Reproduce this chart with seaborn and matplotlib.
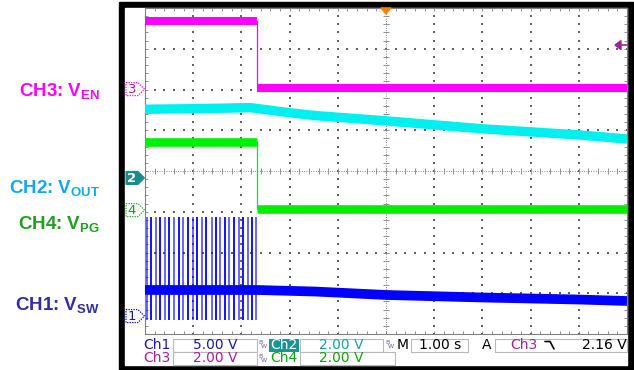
import numpy as np
import pandas as pd
import matplotlib
matplotlib.use("Agg")
import matplotlib.pyplot as plt
import seaborn as sns
from matplotlib.patches import Rectangle, Polygon

# ---------------- data ----------------
# time in seconds (1.00 s/div, trigger at t = 0), voltages in volts
ch3_time = [-5.0, -2.68, 5.0]          # CH3: V_EN (step)
ch3_volt = [3.34, 0.05, 0.05]
ch4_time = [-5.0, -2.68, 5.0]          # CH4: V_PG (step)
ch4_volt = [3.34, 0.05, 0.05]
ch2_time = [-5.0, -3.86, -2.82, -2.0, -1.47, 0.0, 2.0, 4.0, 5.0]   # CH2: V_OUT
ch2_volt = [3.37, 3.40, 3.45, 3.20, 3.06, 2.80, 2.41, 2.11, 1.91]
ch1_time = [-5.0, -2.68, -1.47, 0.0, 2.0, 4.0, 5.0]                # CH1: V_SW baseline
ch1_volt = [3.20, 3.20, 3.01, 2.59, 2.28, 2.03, 1.85]
sw_pulse_time = [-4.96, -4.87, -4.77, -4.68, -4.59, -4.50, -4.40, -4.30, -4.21,
                 -4.11, -4.01, -3.93, -3.82, -3.73, -3.62, -3.53, -3.44, -3.34,
                 -3.25, -3.15, -3.05, -2.96, -2.86, -2.77, -2.69]
sw_pulse_high = 12.2
sw_pulse_low = -0.5

channel_names = ["Ch1", "Ch2", "Ch3", "Ch4"]
volts_per_div = [5.0, 2.0, 2.0, 2.0]
offset_div = [-3.56, -0.17, 2.01, -0.96]
scale_labels = ["5.00 V", "2.00 V", "2.00 V", "2.00 V"]
time_label = "1.00 s"
trigger_source = "Ch3"
trigger_level = 2.16
trigger_label = "2.16 V"
trace_labels = [("CH1: V", "SW"), ("CH2: V", "OUT"), ("CH3: V", "EN"), ("CH4: V", "PG")]

# ---------------- style ----------------
sns.set_style("white")
plt.rcParams["font.family"] = ["DejaVu Sans"]
plt.rcParams["mathtext.fontset"] = "custom"
plt.rcParams["mathtext.bf"] = "Liberation Sans:bold"
plt.rcParams["mathtext.rm"] = "Liberation Sans"

trace_col = ["#0000FF", "#00F0F0", "#FF00FF", "#00F000"]
label_col = ["#2E2EA8", "#10A8EC", "#FF00FF", "#1FA01F"]
panel_col = ["#1A1AA0", "#1AA0A0", "#A020A0", "#10A010"]

W, H = 634, 370
GX0, GX1, GY0, GY1 = 145, 627, 8, 334
fig = plt.figure(figsize=(W / 100, H / 100), dpi=100)

ax_bg = fig.add_axes([0, 0, 1, 1], zorder=0)
ax_bg.set_xlim(0, W); ax_bg.set_ylim(H, 0); ax_bg.axis("off")
ax_bg.add_patch(Rectangle((119, 2), W - 119, H - 2, color="black"))
ax_bg.add_patch(Rectangle((125, 8), GX1 - 125, 365 - 8, color="white"))

ax = fig.add_axes([GX0 / W, (H - GY1) / H, (GX1 - GX0) / W, (GY1 - GY0) / H], zorder=1)
ax.set_facecolor("none")
ax.set_xlim(-5, 5); ax.set_ylim(-4, 4)

def to_div(v, ch):
    return np.asarray(v, dtype=float) / volts_per_div[ch] + offset_div[ch]

# grid
minor_x = np.arange(-5, 5.001, 0.2)
minor_y = np.arange(-4, 4.001, 0.2)
gx, gy = [], []
for xv in range(-4, 5):
    if xv == 0:
        continue
    gx += [xv] * len(minor_y); gy += list(minor_y)
for yv in range(-3, 4):
    if yv == 0:
        continue
    gx += list(minor_x); gy += [yv] * len(minor_x)
ax.scatter(gx, gy, s=1.0, marker="s", color="#606060", linewidths=0, zorder=1)
ax.axhline(0, color="#606060", lw=0.6, ls=(0, (1, 1.8)), zorder=1)
ax.axvline(0, color="#606060", lw=0.6, ls=(0, (1, 1.8)), zorder=1)
ax.scatter(minor_x, np.zeros_like(minor_x), marker="|", s=14, color="#909090", linewidths=0.7, zorder=1)
ax.scatter(np.zeros_like(minor_y), minor_y, marker="_", s=14, color="#909090", linewidths=0.7, zorder=1)
ax.set_xticks(minor_x); ax.set_yticks(minor_y)
ax.tick_params(direction="in", length=2.5, width=0.6, color="#808080",
               top=True, right=True, bottom=True, left=True,
               labelbottom=False, labelleft=False)
for sp in ax.spines.values():
    sp.set_color("#808080"); sp.set_linewidth(0.8)

# traces
def step_trace(times, volts, ch, lw):
    y = to_div(volts, ch)
    sns.lineplot(x=times, y=y, ax=ax, color=trace_col[ch], lw=0.9,
                 drawstyle="steps-post", zorder=3, legend=False)
    for i in range(len(times) - 1):
        sns.lineplot(x=[times[i], times[i + 1]], y=[y[i], y[i]], ax=ax,
                     color=trace_col[ch], lw=lw, zorder=4, legend=False,
                     solid_capstyle="butt")

step_trace(ch3_time, ch3_volt, 2, 5.8)
step_trace(ch4_time, ch4_volt, 3, 6.2)
sns.lineplot(x=ch2_time, y=to_div(ch2_volt, 1), ax=ax, color=trace_col[1], lw=6.8,
             zorder=4, legend=False, solid_capstyle="butt")
for i, t in enumerate(sw_pulse_time):
    ax.vlines(t, to_div(sw_pulse_low, 0), to_div(sw_pulse_high, 0),
              color=trace_col[0], alpha=1.0 if i % 2 else 0.65, lw=1.3, zorder=3)
sns.lineplot(x=ch1_time, y=to_div(ch1_volt, 0), ax=ax, color=trace_col[0], lw=7.0,
             zorder=4, legend=False, solid_capstyle="butt")
ax.set_xlabel(""); ax.set_ylabel("")

# ---------------- foreground overlay (pixel coordinates) ----------------
fg = fig.add_axes([0, 0, 1, 1], zorder=2)
fg.set_xlim(0, W); fg.set_ylim(H, 0); fg.axis("off"); fg.set_facecolor("none")

def px_y(div):
    return GY0 + (4 - div) * (GY1 - GY0) / 8

# channel ground markers
for ch in [2, 1, 3, 0]:
    yc = px_y(offset_div[ch])
    pts = [(126, yc - 6.5), (138, yc - 6.5), (144.5, yc), (138, yc + 6.5), (126, yc + 6.5)]
    if ch == 1:
        fg.add_patch(Polygon(pts, closed=True, facecolor="#1A8C8C", edgecolor="#1A8C8C", lw=0.8))
        fg.text(132, yc + 0.5, "2", color="white", fontsize=9.5, fontweight="bold",
                ha="center", va="center")
    else:
        fg.add_patch(Polygon(pts, closed=True, facecolor="white",
                             edgecolor=trace_col[ch] if ch != 3 else "#20B020",
                             lw=0.9, ls=(0, (1, 1))))
        fg.text(132, yc + 0.5, str(ch + 1), color=panel_col[ch], fontsize=9.5,
                ha="center", va="center")

# trigger position (top) and trigger level (right)
fg.add_patch(Polygon([(381, 8), (391, 8), (386, 14)], closed=True, color="#FF8000"))
ty = px_y(offset_div[2] + trigger_level / volts_per_div[2])
fg.add_patch(Polygon([(615, ty), (621, ty - 4.5), (621, ty + 4.5)], closed=True, color="#A020A0"))
fg.plot([620, 627], [ty, ty], color="#A020A0", lw=1.2)

# left trace labels
label_base = {2: 97, 1: 194, 3: 230, 0: 311}
for ch in [2, 1, 3, 0]:
    main, sub = trace_labels[ch]
    fg.text(100, label_base[ch], main + r"$_{\mathbf{" + sub + "}}$", color=label_col[ch],
            fontsize=13.5, fontweight="bold", family="Liberation Sans",
            ha="right", va="baseline")

# info panel
r1, r2 = 345, 358.5
box_kw = dict(facecolor="white", edgecolor="#B8B8B8", lw=0.8)
fg.add_patch(Rectangle((173, 338.5), 84, 13, **box_kw))
fg.add_patch(Rectangle((300, 338.5), 83, 13, **box_kw))
fg.add_patch(Rectangle((411, 338.5), 57, 13, **box_kw))
fg.add_patch(Rectangle((495, 338.5), 132, 13, **box_kw))
fg.add_patch(Rectangle((173, 351.5), 84, 13, **box_kw))
fg.add_patch(Rectangle((300, 351.5), 95, 13, **box_kw))
fg.add_patch(Rectangle((269, 338.5), 30, 13, facecolor="#1A9494", edgecolor="none"))

tkw = dict(fontsize=10, va="center")
fg.text(143, r1, channel_names[0], color=panel_col[0], ha="left", **tkw)
fg.text(215, r1, scale_labels[0], color=panel_col[0], ha="center", **tkw)
fg.text(284, r1, channel_names[1], color="white", ha="center", **tkw)
fg.text(341, r1, scale_labels[1], color=panel_col[1], ha="center", **tkw)
fg.text(397, r1, "M", color="black", ha="left", **tkw)
fg.text(440, r1, time_label, color="black", ha="center", **tkw)
fg.text(482, r1, "A", color="black", ha="left", **tkw)
fg.text(510, r1, trigger_source, color=panel_col[2], ha="left", **tkw)
fg.plot([545, 550, 554], [341.5, 341.5, 349], color="black", lw=1.2)
fg.text(627, r1, trigger_label, color="black", ha="right", **tkw)
fg.text(143, r2, channel_names[2], color=panel_col[2], ha="left", **tkw)
fg.text(215, r2, scale_labels[2], color=panel_col[2], ha="center", **tkw)
fg.text(270, r2, channel_names[3], color=panel_col[3], ha="left", **tkw)
fg.text(341, r2, scale_labels[3], color=panel_col[3], ha="center", **tkw)
for bx, by in [(258, r1), (385, r1), (258, r2)]:
    fg.text(bx, by - 2.5, "B", color="#6060A0", fontsize=4.5, ha="left", va="center")
    fg.text(bx + 3, by + 1.5, "W", color="#6060A0", fontsize=4.5, ha="left", va="center")

fig.savefig("out.png", dpi=100)
